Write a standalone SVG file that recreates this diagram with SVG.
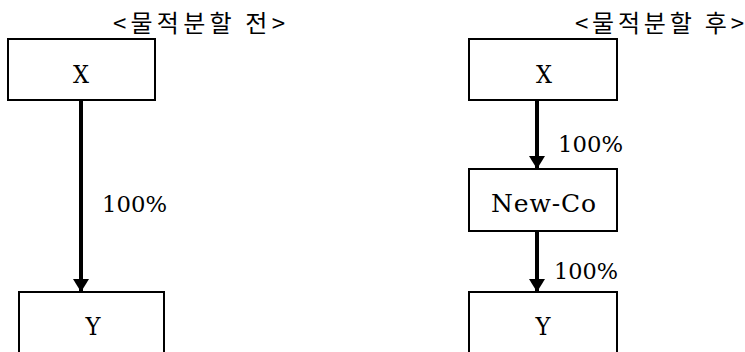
<svg xmlns="http://www.w3.org/2000/svg" width="745" height="352" viewBox="0 0 745 352">
  <style>
    .box { fill: #ffffff; stroke: #000000; stroke-width: 2; }
    .edge { stroke: #000000; stroke-width: 4; fill: none; marker-end: url(#arrow); }
    .title { font-family: "Noto Sans CJK KR", "DejaVu Serif", serif; font-size: 24px; fill: #000000; }
    .label { font-family: "DejaVu Serif", "Liberation Serif", serif; font-size: 25px; fill: #000000; text-anchor: middle; }
    .pct { font-family: "DejaVu Serif", "Liberation Serif", serif; font-size: 23px; fill: #000000; }
  </style>
  <defs>
    <marker id="arrow" viewBox="0 0 13 16" refX="13" refY="8" markerWidth="13" markerHeight="16" markerUnits="userSpaceOnUse" orient="auto">
      <path d="M0,0 L13,8 L0,16 z" fill="#000000"/>
    </marker>
  </defs>

  <rect width="745" height="352" fill="#ffffff"/>

  <!-- section titles -->
  <text class="title" x="113" y="32" textLength="172" lengthAdjust="spacing">&lt;물적분할 전&gt;</text>
  <text class="title" x="575" y="32" textLength="169" lengthAdjust="spacing">&lt;물적분할 후&gt;</text>

  <!-- before: X owns Y -->
  <g id="before-x">
    <rect class="box" x="8" y="39" width="147" height="61"/>
    <text class="label" x="81" y="83" textLength="16" lengthAdjust="spacingAndGlyphs">X</text>
  </g>
  <g id="before-y">
    <rect class="box" x="19" y="292" width="145" height="70"/>
    <text class="label" x="93" y="335" textLength="15" lengthAdjust="spacingAndGlyphs">Y</text>
  </g>

  <!-- after: X owns New-Co owns Y -->
  <g id="after-x">
    <rect class="box" x="469" y="39" width="148" height="61"/>
    <text class="label" x="544" y="83" textLength="16" lengthAdjust="spacingAndGlyphs">X</text>
  </g>
  <g id="after-newco">
    <rect class="box" x="469" y="169" width="148" height="62"/>
    <text class="label" x="543.5" y="212" font-size="24" textLength="105" lengthAdjust="spacing">New-Co</text>
  </g>
  <g id="after-y">
    <rect class="box" x="469" y="292" width="148" height="70"/>
    <text class="label" x="543" y="335" textLength="15" lengthAdjust="spacingAndGlyphs">Y</text>
  </g>

  <!-- ownership connectors -->
  <g id="connectors">
    <line class="edge" x1="81" y1="100" x2="81" y2="292"/>
    <text class="pct" x="102" y="212" textLength="65" lengthAdjust="spacingAndGlyphs">100%</text>

    <line class="edge" x1="537" y1="100" x2="537" y2="169"/>
    <text class="pct" x="558" y="152" textLength="65" lengthAdjust="spacingAndGlyphs">100%</text>

    <line class="edge" x1="537" y1="231" x2="537" y2="292"/>
    <text class="pct" x="554" y="279" textLength="64" lengthAdjust="spacingAndGlyphs">100%</text>
  </g>
</svg>
